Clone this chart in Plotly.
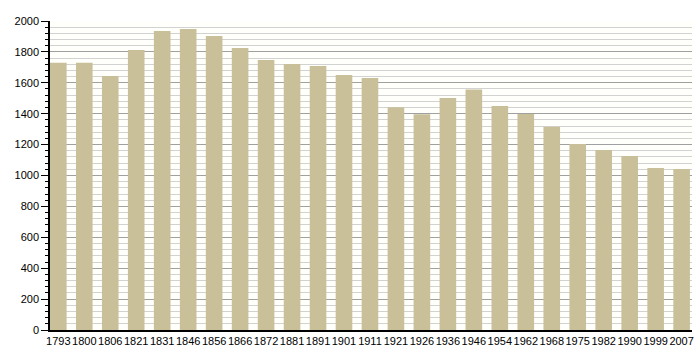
import plotly.graph_objects as go

years = ["1793", "1800", "1806", "1821", "1831", "1846", "1856", "1866", "1872", "1881",
         "1891", "1901", "1911", "1921", "1926", "1936", "1946", "1954", "1962", "1968",
         "1975", "1982", "1990", "1999", "2007"]
population = [1730, 1729, 1644, 1812, 1935, 1948, 1903, 1825, 1748, 1722,
              1709, 1650, 1631, 1441, 1396, 1502, 1557, 1450, 1398, 1316,
              1204, 1165, 1126, 1049, 1042]
y_ticks = [0, 200, 400, 600, 800, 1000, 1200, 1400, 1600, 1800, 2000]

fig = go.Figure(go.Bar(
    x=years, y=population,
    marker=dict(color="#c9c09a", line=dict(width=0)),
    width=0.64,
))

fig.update_layout(
    width=700, height=360,
    margin=dict(l=50, r=8, t=21, b=30, autoexpand=False),
    paper_bgcolor="white",
    plot_bgcolor="#fffffb",
    showlegend=False,
    font=dict(family="Liberation Sans, Arial, sans-serif", size=11, color="black"),
)
fig.update_xaxes(
    type="category",
    range=[-0.32, 24.4],
    automargin=False,
    tickangle=0,
    showline=True, linecolor="black", linewidth=1.5,
    showgrid=False, ticks="", ticklen=0,
    tickfont=dict(size=11),
)
fig.update_yaxes(
    range=[0, 2000],
    automargin=False,
    tickvals=y_ticks,
    showline=True, linecolor="black", linewidth=1.5,
    ticks="outside", ticklen=7, tickcolor="black", tickwidth=1,
    showgrid=True, gridcolor="#a0a0a0", gridwidth=1,
    zeroline=False,
    minor=dict(dtick=40, tick0=0, ticks="outside", ticklen=3, tickcolor="black",
               showgrid=True, gridcolor="#d2d2d2", gridwidth=1),
    tickfont=dict(size=11),
)

fig.write_html("out.html", config={"displayModeBar": False},
               post_script="document.body.style.margin='0';")
